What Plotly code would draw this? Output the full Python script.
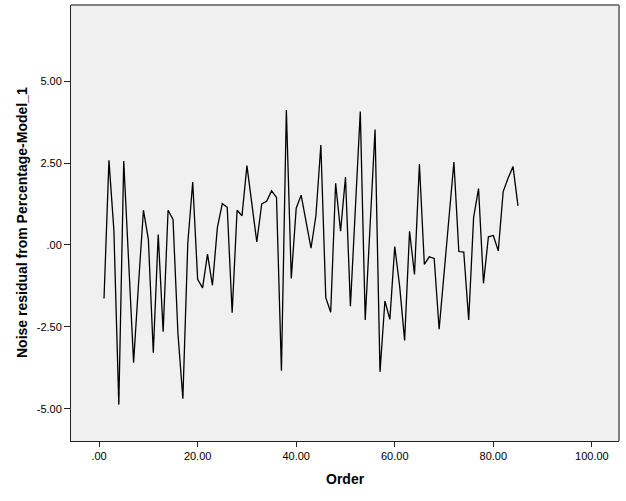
import plotly.graph_objects as go

# residuals
order = list(range(1, 86))
residual = [
    -1.63, 2.58, 0.46, -4.87, 2.56, -0.55, -3.59, -1.20, 1.06, 0.17,
    -3.29, 0.32, -2.65, 1.06, 0.78, -2.70, -4.69, 0.05, 1.92, -1.05,
    -1.31, -0.28, -1.23, 0.53, 1.26, 1.15, -2.07, 1.06, 0.89, 2.42,
    1.27, 0.09, 1.25, 1.33, 1.65, 1.45, -3.84, 4.12, -1.02, 1.12,
    1.52, 0.66, -0.10, 0.89, 3.05, -1.61, -2.05, 1.88, 0.42, 2.07,
    -1.87, 1.10, 4.07, -2.29, 0.60, 3.52, -3.87, -1.71, -2.27, -0.05,
    -1.27, -2.91, 0.42, -0.90, 2.47, -0.59, -0.36, -0.41, -2.57, -0.92,
    0.80, 2.53, -0.20, -0.22, -2.29, 0.84, 1.72, -1.17, 0.25, 0.29,
    -0.18, 1.63, 2.04, 2.39, 1.19,
]

x_ticks = [0, 20, 40, 60, 80, 100]
x_labels = [".00", "20.00", "40.00", "60.00", "80.00", "100.00"]
y_ticks = [-5, -2.5, 0, 2.5, 5]
y_labels = ["-5.00", "-2.50", ".00", "2.50", "5.00"]

fig = go.Figure()
fig.add_trace(go.Scatter(x=order, y=residual, mode="lines",
                         line=dict(color="black", width=1.3),
                         showlegend=False))

font = "Liberation Sans, Arial, sans-serif"

fig.update_layout(
    width=626, height=501,
    margin=dict(l=71, r=7, t=5, b=60),
    paper_bgcolor="white",
    plot_bgcolor="#F0F0F0",
    font=dict(family=font, size=11, color="black"),
    xaxis=dict(range=[-5.7, 105.5], tickvals=x_ticks, ticktext=x_labels,
               showgrid=False, zeroline=False, showline=True,
               linecolor="#222222", linewidth=1,
               ticks="outside", ticklen=5, tickcolor="#222222",
               tickfont=dict(size=11)),
    yaxis=dict(range=[-5.98, 7.32], tickvals=y_ticks, ticktext=y_labels,
               showgrid=False, zeroline=False, showline=True,
               linecolor="#222222", linewidth=1,
               ticks="outside", ticklen=6, tickcolor="#222222",
               tickfont=dict(size=11)),
    shapes=[
        dict(type="line", xref="paper", yref="paper", x0=0, x1=1, y0=1, y1=1,
             line=dict(color="#808080", width=2)),
        dict(type="line", xref="paper", yref="paper", x0=1, x1=1, y0=0, y1=1,
             line=dict(color="#808080", width=2)),
    ],
    annotations=[
        dict(text="<b>Order</b>", xref="paper", yref="paper",
             x=0.5, y=-38 / 436, xanchor="center", yanchor="middle",
             showarrow=False, font=dict(size=14, family=font)),
        dict(text="<b>Noise residual from Percentage-Model_1</b>",
             xref="paper", yref="paper", textangle=-90,
             x=-49 / 548, y=0.5, xanchor="center", yanchor="middle",
             showarrow=False, font=dict(size=14, family=font)),
    ],
)

# drop the browser's default page margin so the figure sits at 0,0
fig.write_html("out.html", config={"displayModeBar": False},
               post_script="document.body.style.margin='0';")
